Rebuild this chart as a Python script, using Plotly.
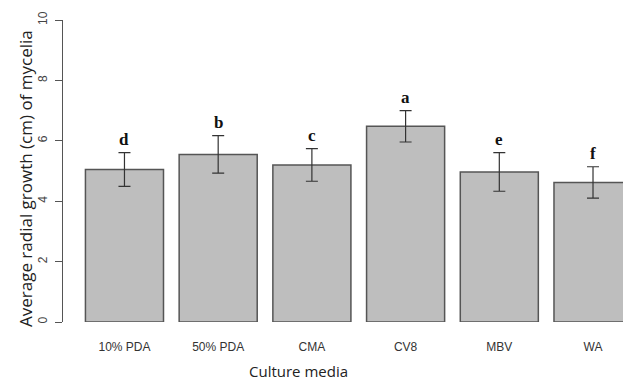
import plotly.graph_objects as go

# Mean radial growth of mycelia (cm) on each culture medium, with SD
media = ["10% PDA", "50% PDA", "CMA", "CV8", "MBV", "WA"]
mean_growth = [5.05, 5.55, 5.20, 6.48, 4.97, 4.62]
sd_growth = [0.56, 0.62, 0.54, 0.52, 0.64, 0.52]
letters = ["d", "b", "c", "a", "e", "f"]
y_ticks = [0, 2, 4, 6, 8, 10]

x_pos = list(range(len(media)))

fig = go.Figure()
fig.add_trace(go.Bar(
    x=x_pos,
    y=mean_growth,
    width=0.833,
    marker=dict(color="#bebebe", line=dict(color="#555555", width=1.5)),
    error_y=dict(type="data", array=sd_growth, visible=True,
                 color="#333333", thickness=1.2, width=6),
    hoverinfo="skip",
))

# significance letters above the error bars
for xi, m, s, lab in zip(x_pos, mean_growth, sd_growth, letters):
    fig.add_annotation(
        x=xi, y=m + s, text="<b>" + lab + "</b>", showarrow=False,
        yanchor="middle", yshift=13,
        font=dict(family="Liberation Serif", size=17, color="#111111"),
    )

# axis titles
fig.add_annotation(
    xref="paper", yref="paper", x=(298.5 - 63) / 560, y=-60 / 302,
    text="Culture media", showarrow=False, yanchor="bottom", yshift=-1,
    font=dict(family="Open Sans", size=15, color="#222222"),
)
fig.add_annotation(
    xref="paper", yref="paper", x=(25 - 63) / 560, y=(322 - 179) / 302,
    text="Average radial growth (cm) of mycelia", showarrow=False,
    textangle=-90, xanchor="center", yanchor="middle",
    font=dict(family="Open Sans", size=17, color="#222222"),
)

fig.update_layout(
    width=623, height=382,
    margin=dict(l=63, r=0, t=20, b=60),
    paper_bgcolor="white", plot_bgcolor="white",
    showlegend=False,
    xaxis=dict(
        range=[-0.656, 5.32],
        tickmode="array", tickvals=x_pos, ticktext=media,
        showline=False, showgrid=False, zeroline=False, ticks="",
        ticklabelstandoff=16,
        tickfont=dict(family="Liberation Sans", size=12, color="#333333"),
    ),
    yaxis=dict(
        range=[0, 10],
        tickmode="array", tickvals=y_ticks,
        showline=True, linecolor="#555555", linewidth=1,
        ticks="outside", ticklen=7, tickcolor="#555555", tickwidth=1,
        tickangle=-90, ticklabelstandoff=3,
        showgrid=False, zeroline=False,
        tickfont=dict(family="Liberation Sans", size=12, color="#444444"),
    ),
)

fig.write_html("out.html")
